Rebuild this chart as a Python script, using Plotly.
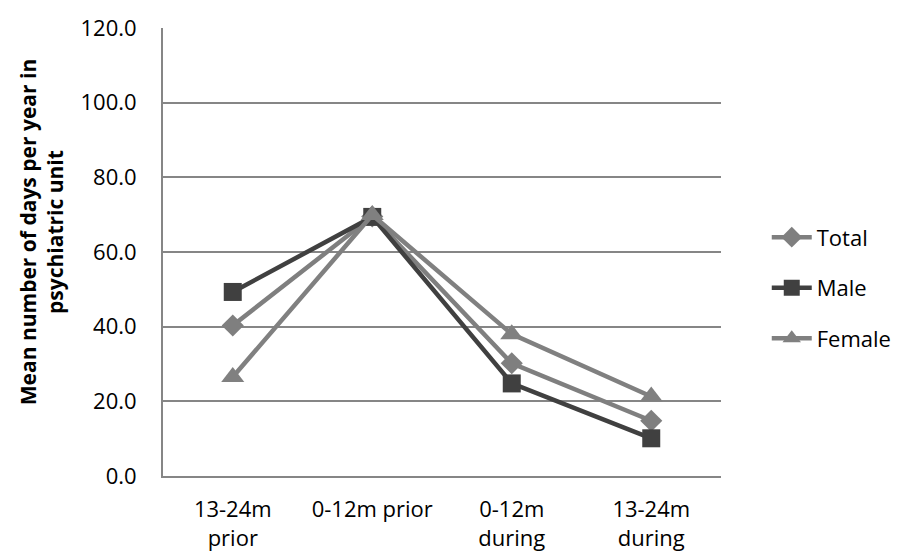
import plotly.graph_objects as go

# Periods relative to the intervention
categories = ["13-24m prior", "0-12m prior", "0-12m during", "13-24m during"]
tick_labels = ["13-24m<br>prior", "0-12m prior", "0-12m<br>during", "13-24m<br>during"]

# Mean number of days per year in psychiatric unit
total = [40.3, 69.5, 30.2, 14.8]
male = [49.3, 69.4, 24.8, 10.1]
female = [26.5, 69.9, 38.0, 21.3]

y_ticks = [0, 20, 40, 60, 80, 100, 120]

FONT = "Open Sans"
x_idx = list(range(len(categories)))

series = [
    ("Total", total, "#7f7f7f", "diamond", 17),
    ("Male", male, "#404040", "square", 18),
    ("Female", female, "#808080", "triangle-up", 20),
]

fig = go.Figure()
for name, vals, color, symbol, size in series:
    fig.add_trace(go.Scatter(
        x=x_idx, y=vals, name=name, mode="lines+markers",
        line=dict(color=color, width=4.5),
        marker=dict(symbol=symbol, size=size, color=color, line=dict(width=0)),
        legendgroup=name,
    ))

fig.update_layout(
    width=899, height=554,
    margin=dict(l=163, r=178, t=28, b=78, autoexpand=False),
    paper_bgcolor="white", plot_bgcolor="white",
    font=dict(family=FONT, size=22, color="black"),
    showlegend=True,
    legend=dict(
        x=1.082, y=0.42, xanchor="left", yanchor="middle",
        font=dict(family=FONT, size=22, color="black"),
        tracegroupgap=19, itemwidth=40,
        bgcolor="rgba(0,0,0,0)",
    ),
    xaxis=dict(
        range=[-0.5, 3.5], tickvals=x_idx, ticktext=tick_labels,
        showgrid=False, zeroline=False, showline=True,
        linecolor="#868686", linewidth=2, ticks="",
        ticklabelstandoff=13, automargin=False,
        tickfont=dict(family=FONT, size=22),
    ),
    yaxis=dict(
        range=[0, 120], tickvals=y_ticks,
        ticktext=[f"{v:.1f}" for v in y_ticks],
        showgrid=True, gridcolor="#868686", gridwidth=1.5,
        zeroline=False, showline=True, linecolor="#868686", linewidth=2,
        ticks="", ticklabelstandoff=20, automargin=False,
        tickfont=dict(family=FONT, size=22),
    ),
    annotations=[dict(
        text="<b>Mean number of days per year in<br>psychiatric unit</b>",
        xref="paper", yref="paper", x=-0.218, y=0.545,
        xanchor="center", yanchor="middle", textangle=-90,
        showarrow=False, font=dict(family=FONT, size=21, color="black"),
    )],
)

fig.write_html("out.html")
